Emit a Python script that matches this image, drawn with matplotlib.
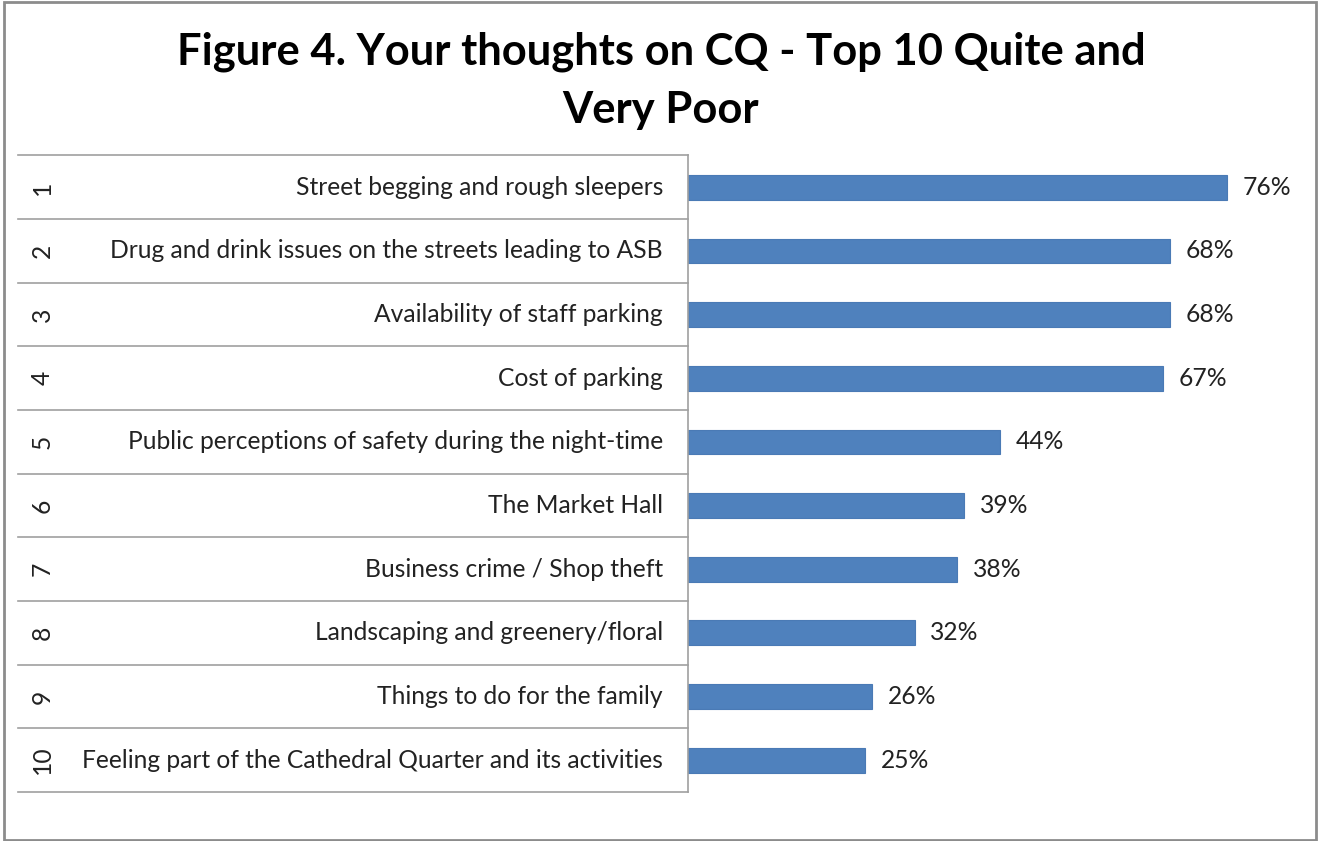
import matplotlib
matplotlib.use("Agg")
import matplotlib.pyplot as plt
from matplotlib.patches import Rectangle

plt.rcParams['font.family'] = ['Lato', 'DejaVu Sans']

# Top 10 issues rated quite / very poor
ranks = ['1', '2', '3', '4', '5', '6', '7', '8', '9', '10']
issues = [
    'Street begging and rough sleepers',
    'Drug and drink issues on the streets leading to ASB',
    'Availability of staff parking',
    'Cost of parking',
    'Public perceptions of safety during the night-time',
    'The Market Hall',
    'Business crime / Shop theft',
    'Landscaping and greenery/floral',
    'Things to do for the family',
    'Feeling part of the Cathedral Quarter and its activities',
]
share = [0.76, 0.68, 0.68, 0.67, 0.44, 0.39, 0.38, 0.32, 0.26, 0.25]

W, H = 1318, 841
BAR = '#4f81bd'
GRID = '#a0a0a0'
TXT = '#222222'
FS = 17.7

fig = plt.figure(figsize=(W / 100, H / 100), dpi=100)

# outer chart border
fig.add_artist(Rectangle((4 / W, 1 / H), 1312 / W, 838 / H, transform=fig.transFigure,
                         fill=False, edgecolor='#8c8c8c', lw=2))

fig.text(661 / W, 1 - 52 / H, 'Figure 4. Your thoughts on CQ - Top 10 Quite and',
         ha='center', va='center', fontsize=31.3, fontweight='bold', color='black')
fig.text(661 / W, 1 - 110 / H, 'Very Poor',
         ha='center', va='center', fontsize=31.3, fontweight='bold', color='black')

x0, x1 = 688, 1255
y_top, y_bot = 155.5, 792
ax = fig.add_axes([x0 / W, 1 - y_bot / H, (x1 - x0) / W, (y_bot - y_top) / H])
ax.set_xlim(0, 0.8)
ax.set_ylim(len(share) - 0.5, -0.5)

pos = list(range(len(share)))
ax.barh(pos, share, height=0.39, color=BAR, edgecolor='#4a7ab5', lw=0.8)
for y, v in zip(pos, share):
    ax.text(v + 0.022, y, f'{round(v * 100)}%', va='center', ha='left',
            fontsize=FS, color=TXT)

for s in ax.spines.values():
    s.set_visible(False)
ax.set_xticks([])
ax.set_yticks([])

# label table on the left
tr = ax.get_yaxis_transform()
left = (18 - x0) / (x1 - x0)
for b in [i - 0.5 for i in range(len(share) + 1)]:
    ax.plot([left, 0], [b, b], transform=tr, color=GRID, lw=1.2, clip_on=False)
ax.plot([0, 0], [-0.5, len(share) - 0.5], transform=tr, color=GRID, lw=1.2, clip_on=False)

num_x = (42 - x0) / (x1 - x0)
lab_x = (663 - x0) / (x1 - x0)
for y, r, name in zip(pos, ranks, issues):
    ax.text(num_x, y, r, transform=tr, rotation=90, ha='center', va='center',
            fontsize=FS, color=TXT)
    ax.text(lab_x, y, name, transform=tr, ha='right', va='center',
            fontsize=FS, color=TXT)

fig.savefig('out.png', dpi=100, facecolor='white')
